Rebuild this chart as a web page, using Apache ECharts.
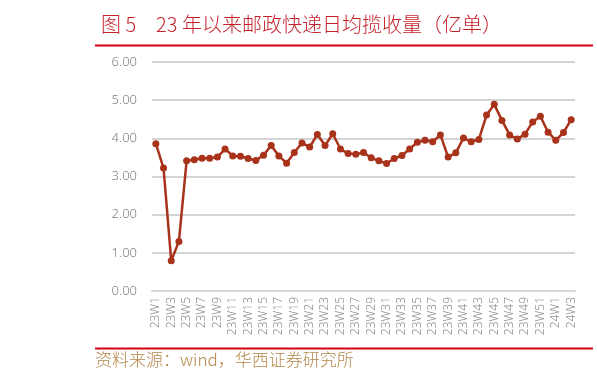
<!DOCTYPE html>
<html><head><meta charset="utf-8">
<script src="https://cdn.jsdelivr.net/npm/echarts@6/dist/echarts.min.js"></script>
<style>html,body{margin:0;padding:0;background:#fff}#c{width:597px;height:380px}</style>
</head><body><div id="c"></div>
<script>
var titleText = '图 5　23 年以来邮政快递日均揽收量（亿单）';
var sourceText = '资料来源：wind，华西证券研究所';
var categories = ['23W1','23W2','23W3','23W4','23W5','23W6','23W7','23W8','23W9','23W10',
'23W11','23W12','23W13','23W14','23W15','23W16','23W17','23W18','23W19','23W20',
'23W21','23W22','23W23','23W24','23W25','23W26','23W27','23W28','23W29','23W30',
'23W31','23W32','23W33','23W34','23W35','23W36','23W37','23W38','23W39','23W40',
'23W41','23W42','23W43','23W44','23W45','23W46','23W47','23W48','23W49','23W50',
'23W51','23W52','24W1','24W2','24W3'];
var values = [3.86,3.22,0.79,1.30,3.41,3.44,3.48,3.48,3.51,3.72,
3.54,3.53,3.47,3.42,3.56,3.81,3.54,3.35,3.63,3.88,
3.77,4.10,3.81,4.12,3.72,3.60,3.58,3.63,3.49,3.41,
3.34,3.47,3.55,3.72,3.90,3.95,3.91,4.09,3.51,3.62,
4.01,3.91,3.97,4.61,4.89,4.47,4.09,3.98,4.11,4.43,
4.58,4.16,3.95,4.15,4.49];
var yTicks = [0,1,2,3,4,5,6];

var chart = echarts.init(document.getElementById('c'), null, {renderer:'canvas'});
chart.setOption({
  animation:false,
  backgroundColor:'#fff',
  title:{text:titleText,left:96,top:9,textStyle:{fontFamily:'Noto Sans CJK SC',fontSize:20,fontWeight:300,color:'#C4222A'}},
  grid:{left:152,right:22,top:62,bottom:89,containLabel:false},
  xAxis:{type:'category',data:categories,boundaryGap:true,
    axisLine:{show:true,lineStyle:{color:'#d9d9d9',width:2}},
    axisTick:{show:false},
    axisLabel:{interval:1,rotate:90,color:'#8c8c8c',fontSize:12,fontFamily:'Noto Sans',fontWeight:300,margin:6}},
  yAxis:{type:'value',min:yTicks[0],max:yTicks[yTicks.length-1],interval:1,
    axisLine:{show:false},axisTick:{show:false},
    axisLabel:{color:'#7f7f7f',fontSize:13,fontFamily:'Noto Sans',fontWeight:300,margin:15,formatter:function(v){return v.toFixed(2);}},
    splitLine:{lineStyle:{color:'#c6c6c6',width:1.5}}},
  series:[{type:'line',data:values,symbol:'circle',symbolSize:7,showAllSymbol:true,
    lineStyle:{color:'#A8321A',width:2.5},itemStyle:{color:'#A8321A'}}],
  graphic:[
    {type:'rect',shape:{x:95,y:44.5,width:498,height:2},style:{fill:'#D6000F'}},
    {type:'rect',shape:{x:95,y:347.5,width:498,height:2},style:{fill:'#D6000F'}},
    {type:'text',left:95,top:351,style:{text:sourceText,font:'300 17px "Noto Sans CJK SC"',fill:'#B5874A'}}
  ]
});
</script></body></html>
